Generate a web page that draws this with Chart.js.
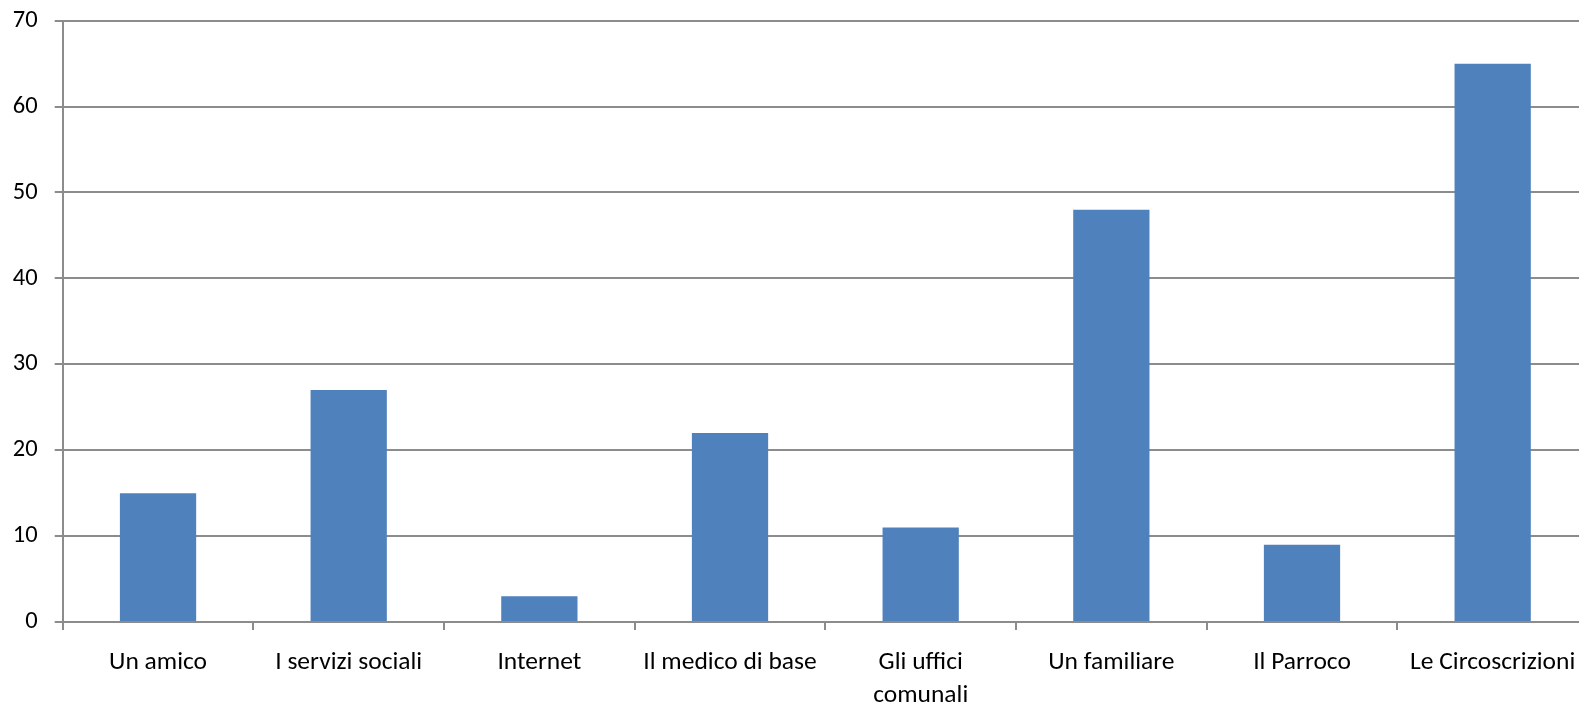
<!DOCTYPE html>
<html>
<head>
<meta charset="utf-8">
<script src="https://cdn.jsdelivr.net/npm/chart.js@4/dist/chart.umd.min.js"></script>
<style>
  html, body { margin: 0; padding: 0; background: #fff; overflow: hidden; }
  #wrap { width: 1590px; height: 708px; position: relative; }
</style>
</head>
<body>
<div id="wrap"><canvas id="c" width="1590" height="708"></canvas></div>
<script>
const categories = [
  'Un amico',
  'I servizi sociali',
  'Internet',
  'Il medico di base',
  ['Gli uffici', 'comunali'],
  'Un familiare',
  'Il Parroco',
  'Le Circoscrizioni'
];
const values = [15, 27, 3, 22, 11, 48, 9, 65];
const yMin = 0, yMax = 70, yStep = 10;

const fontFamily = "Carlito, Lato, 'Open Sans', sans-serif";
const gridGray = '#8c8c8c';

new Chart(document.getElementById('c'), {
  type: 'bar',
  data: {
    labels: categories,
    datasets: [{
      data: values,
      backgroundColor: '#4F81BD',
      borderWidth: 0,
      categoryPercentage: 1,
      barPercentage: 0.4
    }]
  },
  options: {
    responsive: false,
    animation: false,
    events: [],
    layout: { padding: { top: 20.7, right: 2, left: 0, bottom: 0 } },
    plugins: { legend: { display: false }, tooltip: { enabled: false } },
    scales: {
      x: {
        offset: true,
        border: { display: true, color: gridGray, width: 2 },
        grid: { display: true, drawOnChartArea: false, drawTicks: true, tickLength: 8, color: gridGray, lineWidth: 2, offset: true },
        ticks: {
          color: '#000',
          font: { family: fontFamily, size: 25.5, lineHeight: 1.26 },
          padding: 17,
          maxRotation: 0,
          autoSkip: false
        },
        afterFit: (s) => { s.height = 86; s.paddingLeft = 0; s.paddingRight = 0; }
      },
      y: {
        min: yMin, max: yMax,
        border: { display: true, color: gridGray, width: 2 },
        grid: { color: gridGray, lineWidth: 2, drawTicks: true, tickLength: 8 },
        ticks: {
          stepSize: yStep,
          color: '#000',
          font: { family: fontFamily, size: 24.5 },
          padding: 17
        },
        afterFit: (s) => { s.width = 62.7; s.paddingTop = 0; s.paddingBottom = 0; }
      }
    }
  }
});
</script>
</body>
</html>
